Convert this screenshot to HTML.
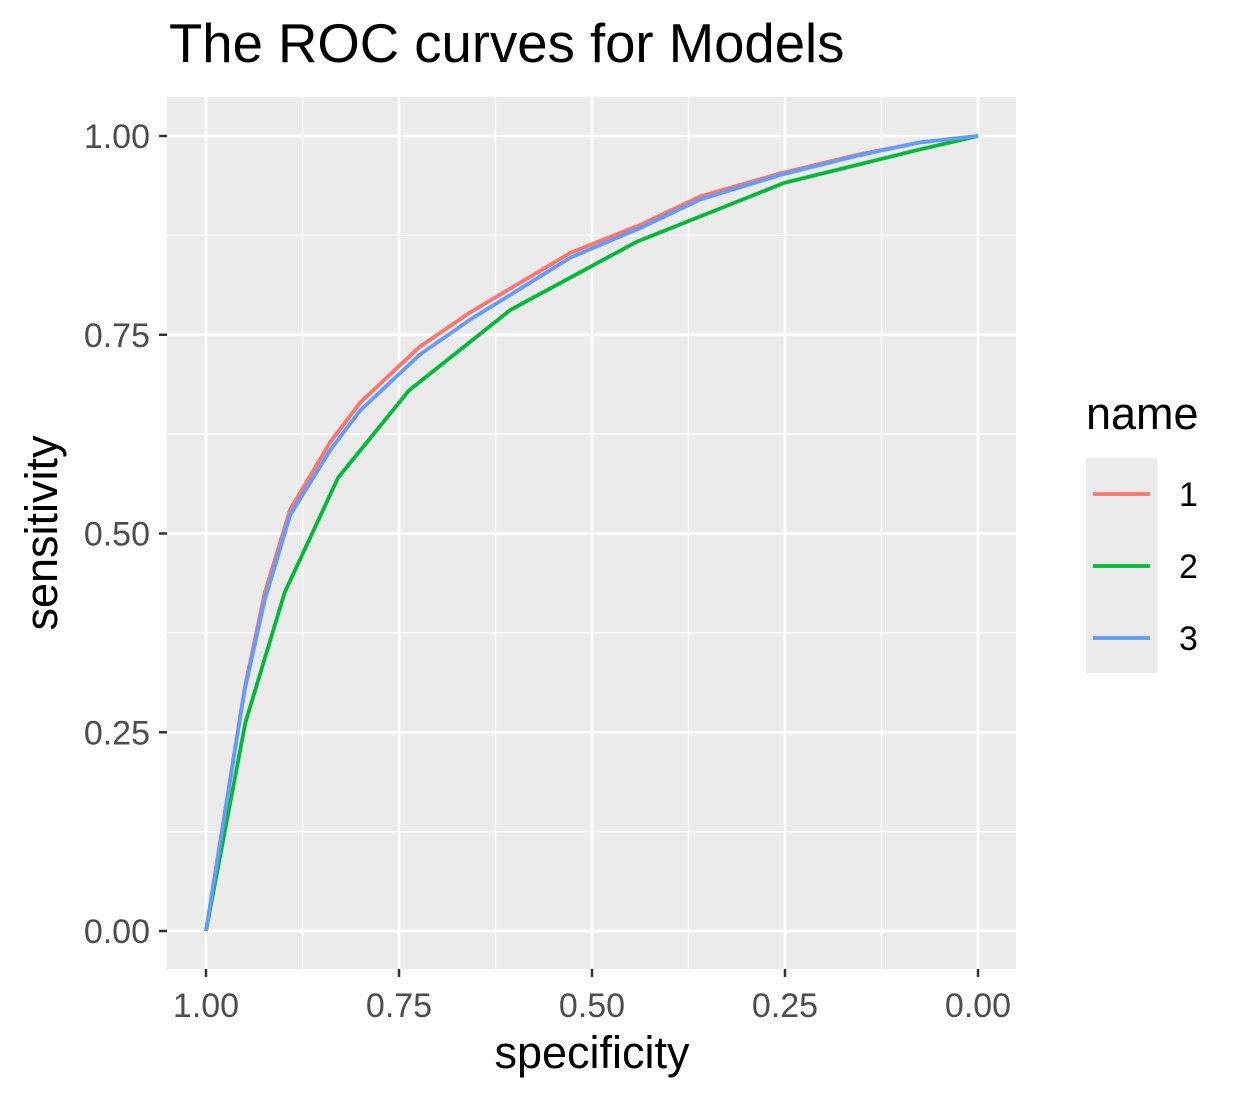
<!DOCTYPE html>
<html><head><meta charset="utf-8"><style>
body{margin:0;background:#fff;}
svg{display:block;font-family:"Liberation Sans",Arial,sans-serif;}
</style></head><body>
<svg id="chart" width="1246" height="1100">
<text x="169" y="62" font-size="54.5" fill="#000">The ROC curves for Models</text>
<rect x="167" y="97" width="849" height="872" fill="#ebebeb"/>
<g id="grid"></g><g id="axes"></g><g id="series"></g>
<text x="592" y="1068" font-size="45" text-anchor="middle" fill="#000">specificity</text>
<text transform="translate(57,533) rotate(-90)" font-size="45" text-anchor="middle" fill="#000">sensitivity</text>
<g>
<text x="1086" y="429" font-size="45" fill="#000">name</text>
<rect x="1086" y="458" width="71" height="215" fill="#ebebeb"/>
<g id="legend"></g>
</g>
</svg>
<script>
const xTicks=[1.00,0.75,0.50,0.25,0.00];
const yTicks=[0.00,0.25,0.50,0.75,1.00];
const tickLabels=["1.00","0.75","0.50","0.25","0.00"];
const seriesNames=["1","2","3"];
const seriesColors=["#f8766d","#00ba38","#619cff"];
const spec1=[1,0.95,0.924,0.891,0.839,0.80,0.723,0.658,0.606,0.528,0.438,0.36,0.256,0.153,0.075,0];
const sens1=[0,0.305,0.425,0.53,0.615,0.665,0.735,0.778,0.808,0.853,0.888,0.924,0.953,0.977,0.992,1];
const spec2=[1,0.949,0.898,0.829,0.737,0.606,0.442,0.251,0.080,0];
const sens2=[0,0.262,0.426,0.570,0.680,0.781,0.867,0.941,0.982,1];
const spec3=[1,0.95,0.924,0.891,0.839,0.80,0.723,0.658,0.606,0.528,0.438,0.36,0.256,0.153,0.075,0];
const sens3=[0,0.303,0.416,0.523,0.605,0.655,0.725,0.769,0.80,0.847,0.884,0.92,0.951,0.976,0.992,1];
const X=v=>978-v*772, Y=v=>931-v*795;
const NS="http://www.w3.org/2000/svg";
function mk(t,a,p){const e=document.createElementNS(NS,t);for(const k in a)e.setAttribute(k,a[k]);p.appendChild(e);return e;}
const grid=document.getElementById('grid'),axes=document.getElementById('axes'),ser=document.getElementById('series'),leg=document.getElementById('legend');
for(let i=0;i<4;i++){
 const vx=(xTicks[i]+xTicks[i+1])/2,vy=(yTicks[i]+yTicks[i+1])/2;
 let l=mk('line',{x1:X(vx),x2:X(vx),y1:97,y2:969,stroke:'#fff','stroke-width':1.3},grid);
 
 l=mk('line',{x1:167,x2:1016,y1:Y(vy),y2:Y(vy),stroke:'#fff','stroke-width':1.3},grid);
 
}
xTicks.forEach((v,i)=>{
 let l=mk('line',{x1:X(v),x2:X(v),y1:97,y2:969,stroke:'#fff','stroke-width':2.7},grid);
 
 mk('line',{x1:X(v),x2:X(v),y1:969,y2:977,stroke:'#333','stroke-width':2.5},axes);
 const t=mk('text',{x:X(v),y:1017,'font-size':34,fill:'#4d4d4d','text-anchor':'middle'},axes);t.textContent=tickLabels[i];
 
});
yTicks.forEach((v,i)=>{
 let l=mk('line',{x1:167,x2:1016,y1:Y(v),y2:Y(v),stroke:'#fff','stroke-width':2.7},grid);
 
 mk('line',{x1:159,x2:167,y1:Y(v),y2:Y(v),stroke:'#333','stroke-width':2.5},axes);
 const t=mk('text',{x:150,y:Y(v)+12,'font-size':34,fill:'#4d4d4d','text-anchor':'end'},axes);t.textContent=tickLabels[4-i];
 
});
const data=[[spec1,sens1],[spec2,sens2],[spec3,sens3]];
data.forEach((d,k)=>{
 const pts=d[0].map((s,i)=>X(s)+','+Y(d[1][i])).join(' ');
 const p=mk('polyline',{points:pts,fill:'none',stroke:seriesColors[k],'stroke-width':3.8,'stroke-linejoin':'round'},ser);
 
 const y=494+k*72;
 const l=mk('line',{x1:1093,x2:1150,y1:y,y2:y,stroke:seriesColors[k],'stroke-width':3.8},leg);
 
 const t=mk('text',{x:1179,y:y+12,'font-size':34,fill:'#000'},leg);t.textContent=seriesNames[k];
 
});
</script>
</body></html>
